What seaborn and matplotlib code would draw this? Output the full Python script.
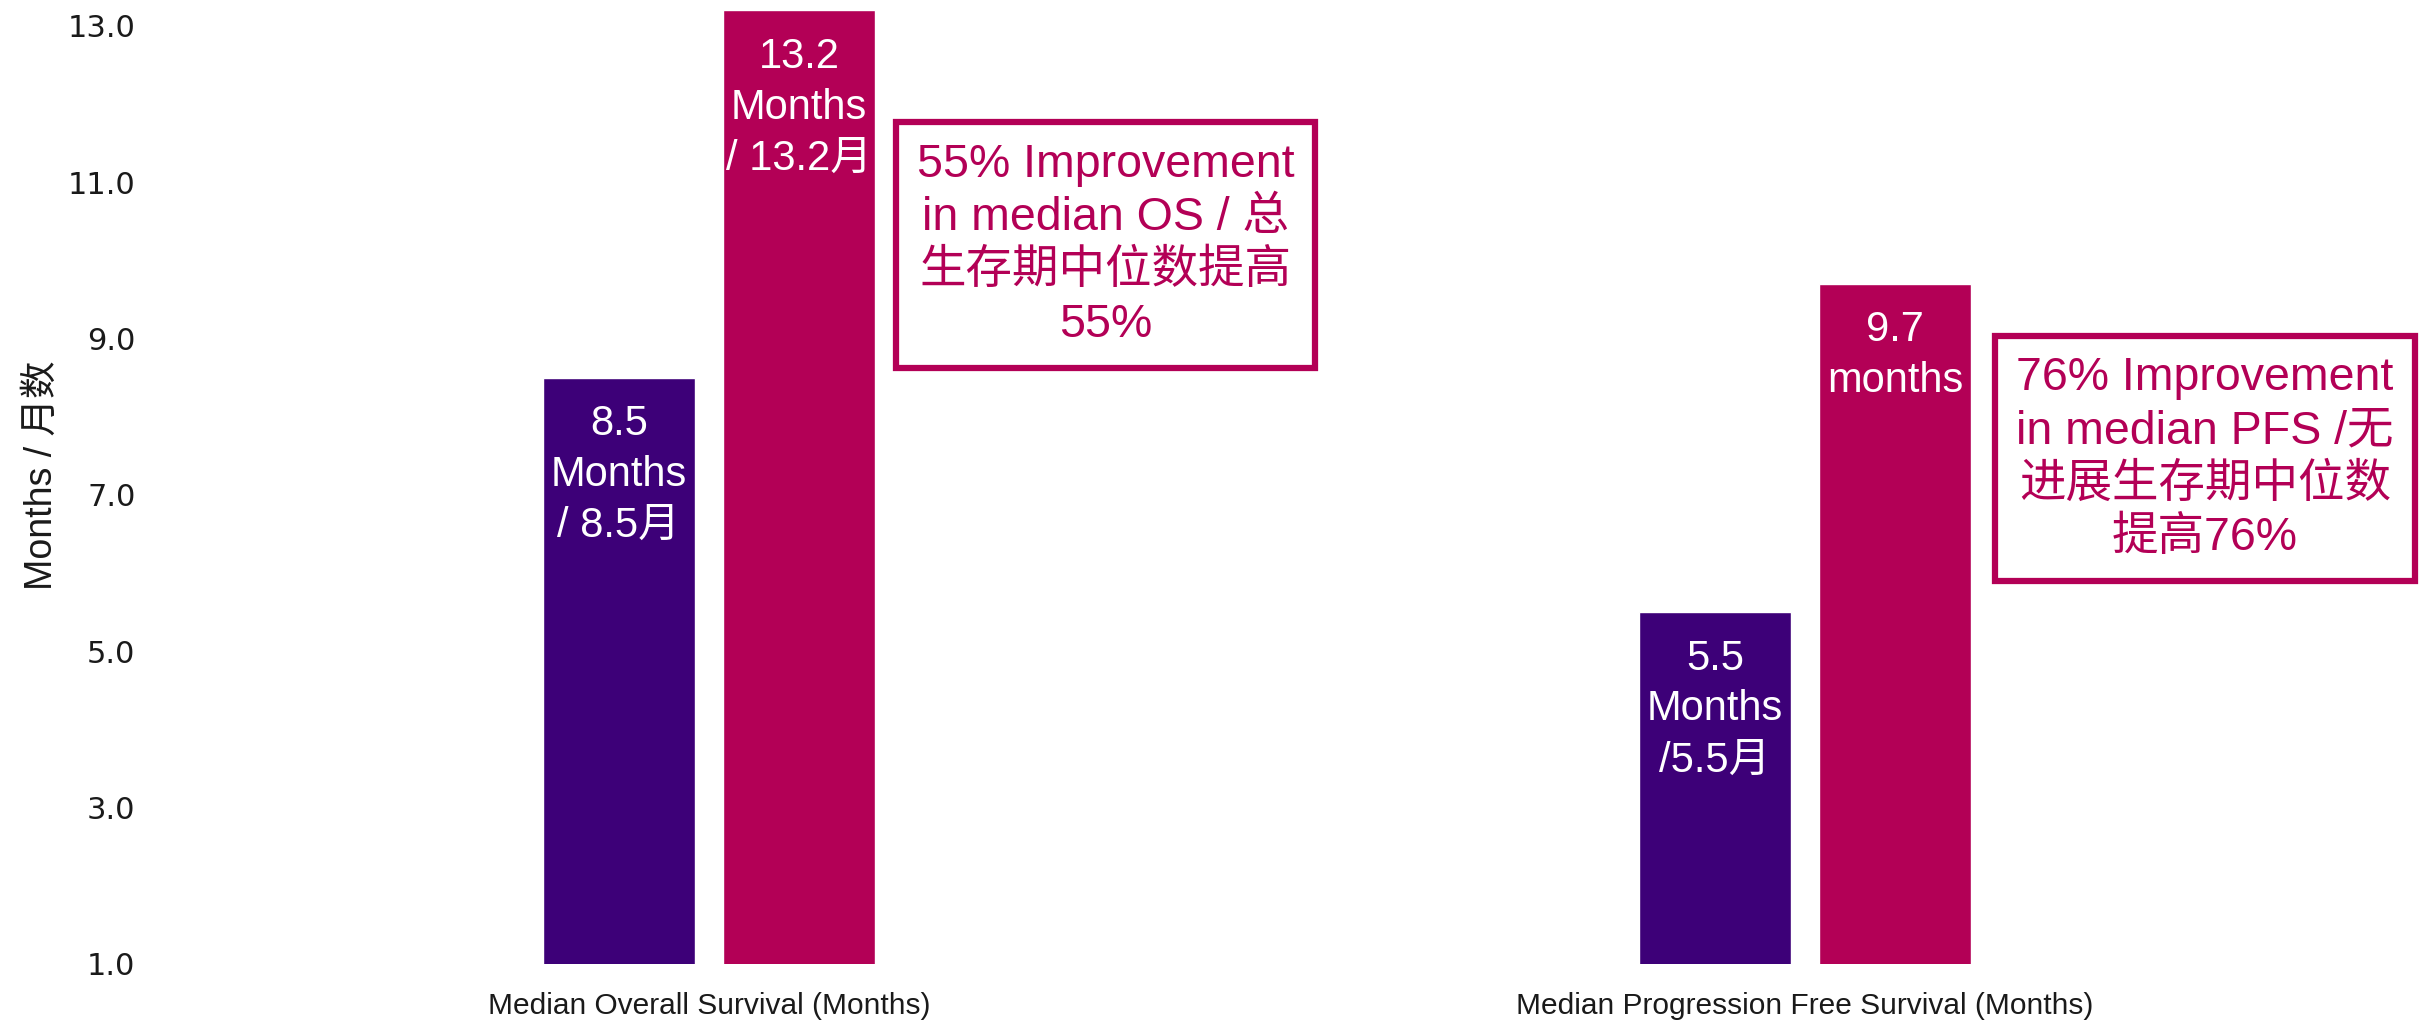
import matplotlib
matplotlib.use("Agg")
import matplotlib.pyplot as plt
import seaborn as sns
import pandas as pd

# ---- data ----
categories = ["Median Overall Survival (Months)", "Median Progression Free Survival (Months)"]
arms = ["Control", "Treatment"]
control_values = [8.5, 5.5]
treatment_values = [13.2, 9.7]
control_labels = ["8.5\nMonths\n/ 8.5月", "5.5\nMonths\n/5.5月"]
treatment_labels = ["13.2\nMonths\n/ 13.2月", "9.7\nmonths"]
box_texts = ["55% Improvement\nin median OS / 总\n生存期中位数提高\n55%",
             "76% Improvement\nin median PFS /无\n进展生存期中位数\n提高76%"]
y_ticks = [1, 3, 5, 7, 9, 11, 13]
y_label = "Months / 月数"

PURPLE = "#3D0078"
MAGENTA = "#B30056"

sns.set_theme(style="white")
plt.rcParams["font.family"] = ["Liberation Sans", "Noto Sans CJK SC", "DejaVu Sans"]

df = pd.DataFrame({
    "category": categories * 2,
    "arm": [arms[0]] * len(categories) + [arms[1]] * len(categories),
    "value": control_values + treatment_values,
})

fig = plt.figure(figsize=(24.32, 10.23), dpi=100)
ax = fig.add_axes([0.058, 0.0577, 0.942, 0.9423])

sns.barplot(data=df, x="category", y="value", hue="arm", order=categories,
            hue_order=arms, palette=[PURPLE, MAGENTA], width=0.3285, gap=0.155,
            legend=False, ax=ax, saturation=1)

ax.set_ylim(1, 13.332)
ax.set_xlim(-0.518, 1.572)
ax.set_yticks(y_ticks)
ax.set_yticklabels([f"{v:.1f}" for v in y_ticks], fontsize=22, color="#1a1a1a",
                   family="DejaVu Sans")
ax.tick_params(axis="y", length=0, pad=4)
ax.tick_params(axis="x", length=0, pad=20, labelsize=21.5, labelcolor="#1a1a1a")
ax.set_xlabel("")
ax.set_ylabel("")
for s in ax.spines.values():
    s.set_visible(False)

fig.text(42 / 2432, 1 - 475 / 1023, y_label, rotation=90, ha="center", va="center",
         fontsize=27, color="#1a1a1a")

# bar labels
for container, labels in zip(ax.containers, [control_labels, treatment_labels]):
    for patch, lab in zip(container.patches, labels):
        xc = patch.get_x() + patch.get_width() / 2
        ax.annotate(lab, xy=(xc, patch.get_y() + patch.get_height()), xytext=(0, -19),
                    textcoords="offset points", ha="center", va="top",
                    multialignment="center", color="white", fontsize=30,
                    linespacing=1.35, annotation_clip=False)

# improvement boxes
box_pos = [(0.362, 10.2), (1.365, 7.47)]
for (bx, by), txt in zip(box_pos, box_texts):
    ax.text(bx, by, txt, ha="center", va="center", multialignment="center",
            color=MAGENTA, fontsize=33.5, linespacing=1.27, clip_on=False,
            bbox=dict(boxstyle="square,pad=0.45", fc="white", ec=MAGENTA, lw=4.5))

fig.savefig("out.png", dpi=100)
